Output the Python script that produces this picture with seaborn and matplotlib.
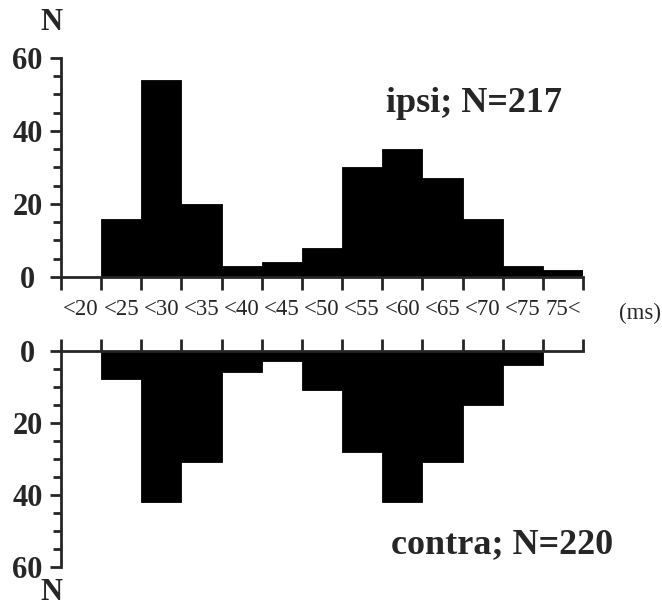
import matplotlib
matplotlib.use("Agg")
import matplotlib.pyplot as plt
from matplotlib.ticker import MultipleLocator
import numpy as np
import pandas as pd
import seaborn as sns

# latency bins (ms) and counts
bins = ["<20", "<25", "<30", "<35", "<40", "<45", "<50",
        "<55", "<60", "<65", "<70", "<75", "75<"]
ipsi = [0, 16, 54, 20, 3, 4, 8, 30, 35, 27, 16, 3, 2]
contra = [0, 8, 42, 31, 6, 3, 11, 28, 42, 31, 15, 4, 0]
y_ticks = [0, 20, 40, 60]

df = pd.DataFrame({"bin": bins, "ipsi": ipsi, "contra": contra})

sns.set_theme(style="ticks")
plt.rcParams['font.family'] = ['Liberation Serif', 'DejaVu Serif']

fig = plt.figure(figsize=(6.62, 6.16), dpi=100)
ax1 = fig.add_axes([61/662, 1 - 277/616, 522/662, (277 - 57.7)/616])
ax2 = fig.add_axes([61/662, 1 - 566.7/616, 522/662, (566.7 - 350.7)/616])

sns.barplot(data=df, x="bin", y="ipsi", color="black", saturation=1,
            width=1, edgecolor="black", linewidth=0.6, ax=ax1)
sns.barplot(data=df, x="bin", y="contra", color="black", saturation=1,
            width=1, edgecolor="black", linewidth=0.6, ax=ax2)

edges = np.arange(-0.5, len(bins))
lw = 2.0

for ax in (ax1, ax2):
    ax.set_xlim(-0.5, len(bins) - 0.5)
    ax.set_xlabel("")
    ax.set_ylabel("")
    ax.set_xticks(edges)
    ax.set_yticks(y_ticks)
    ax.yaxis.set_minor_locator(MultipleLocator(5))
    ax.tick_params(axis='y', which='major', length=8, width=lw, pad=16,
                   labelsize=22, direction='out')
    ax.tick_params(axis='y', which='minor', length=6, width=lw, direction='out')
    for t in ax.get_yticklabels():
        t.set_fontweight('bold')
        t.set_horizontalalignment('center')
    ax.spines['right'].set_visible(False)
    ax.spines['left'].set_linewidth(lw)

# upper panel: ipsi
ax1.set_ylim(0, 60)
ax1.spines['top'].set_visible(False)
ax1.spines['bottom'].set_linewidth(lw)
ax1.tick_params(axis='x', which='major', length=9, width=lw, direction='out',
                labelbottom=False)
ax1.set_xticks(range(len(bins)), minor=True)
ax1.set_xticklabels(bins, minor=True)
ax1.tick_params(axis='x', which='minor', length=0, pad=16, labelsize=16.5)

# lower panel: contra, drawn downward
ax2.set_ylim(60, 0)
ax2.spines['bottom'].set_visible(False)
ax2.spines['top'].set_linewidth(lw)
ax2.xaxis.tick_top()
ax2.tick_params(axis='x', which='major', length=9, width=lw, direction='out',
                top=True, bottom=False, labeltop=False, labelbottom=False)

fig.text(51/662, 1 - 22/616, "N", ha='center', va='center', fontsize=22, fontweight='bold')
fig.text(51/662, 1 - 592/616, "N", ha='center', va='center', fontsize=22, fontweight='bold')
fig.text(474/662, 1 - 103/616, "ipsi; N=217", ha='center', va='center',
         fontsize=26, fontweight='bold')
fig.text(502/662, 1 - 545/616, "contra; N=220", ha='center', va='center',
         fontsize=26, fontweight='bold')
fig.text(640/662, 1 - 313/616, "(ms)", ha='center', va='center', fontsize=16.5)

fig.savefig("out.png", dpi=100)
